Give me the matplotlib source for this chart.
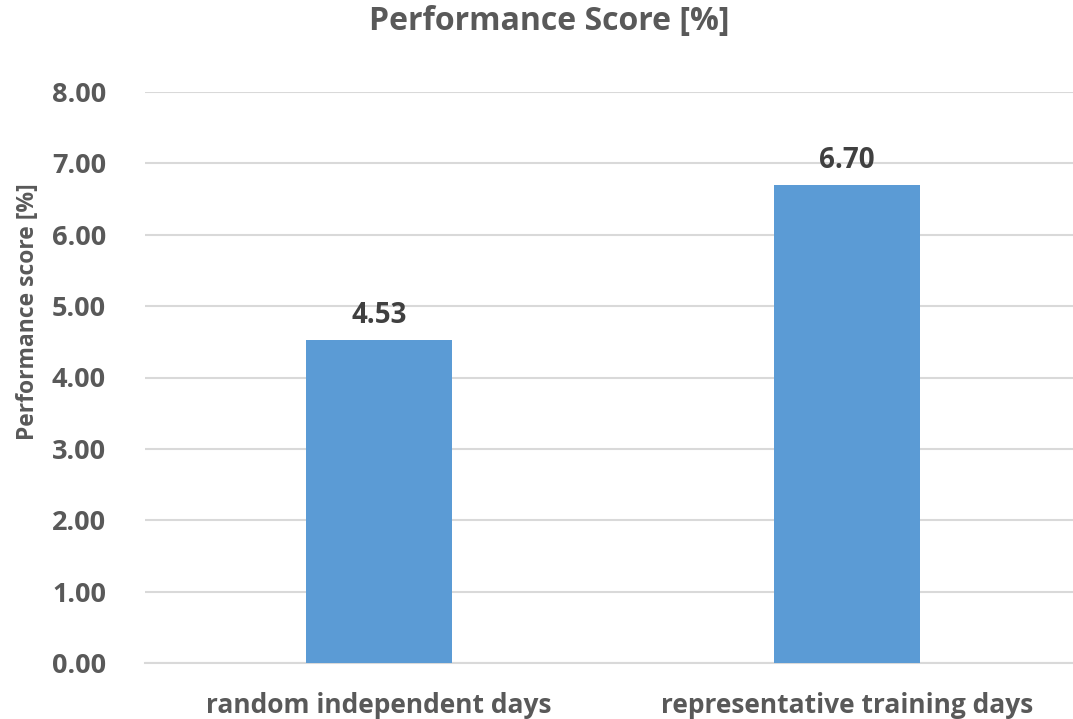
import matplotlib.pyplot as plt

categories = ["random independent days", "representative training days"]
scores = [4.53, 6.70]
y_ticks = [0, 1, 2, 3, 4, 5, 6, 7, 8]

BAR_COLOR = "#5B9BD5"
TEXT_COLOR = "#595959"
LABEL_COLOR = "#404040"
GRID_COLOR = "#D9D9D9"

plt.rcParams["font.family"] = ["Open Sans", "DejaVu Sans"]
plt.rcParams["font.weight"] = "bold"

fig = plt.figure(figsize=(10.73, 7.19), dpi=100)
# plot area runs to the right edge of the figure
ax = fig.add_axes([145 / 1073, 1 - 663 / 719, 1 - 145 / 1073, (663 - 92) / 719])

x = list(range(len(categories)))
bars = ax.bar(x, scores, width=0.314, color=BAR_COLOR, zorder=3)

for bar, val in zip(bars, scores):
    ax.annotate(f"{val:.2f}", (bar.get_x() + bar.get_width() / 2, val),
                xytext=(0, 7), textcoords="offset points",
                ha="center", va="bottom", fontsize=20, fontweight="bold",
                color=LABEL_COLOR, zorder=4)

ax.set_xlim(-0.5, -0.5 + (1073 - 145) / 468)
ax.set_ylim(0, 8)
ax.set_yticks(y_ticks)
ax.set_yticklabels([f"{t:.2f}" for t in y_ticks])
ax.set_xticks(x)
ax.set_xticklabels(categories, fontsize=19)

ax.grid(axis="y", color=GRID_COLOR, linewidth=1.5, zorder=0)
ax.set_axisbelow(True)
for side in ["top", "right", "left"]:
    ax.spines[side].set_visible(False)
ax.spines["bottom"].set_color(GRID_COLOR)
ax.spines["bottom"].set_linewidth(1.5)

ax.tick_params(axis="both", length=0, colors=TEXT_COLOR)
ax.tick_params(axis="y", labelsize=19.5, pad=28)
ax.tick_params(axis="x", pad=21)

ax.set_ylabel("Performance score [%]", fontsize=16.5, color=TEXT_COLOR,
              fontweight="bold")
ax.yaxis.set_label_coords(-(145 - 40) / 928, (663 - 312) / 571)
fig.text(0.5115, 1 - 22 / 719, "Performance Score [%]", ha="center", va="center",
         fontsize=23, fontweight="bold", color=TEXT_COLOR)

fig.savefig("out.png", dpi=100)
